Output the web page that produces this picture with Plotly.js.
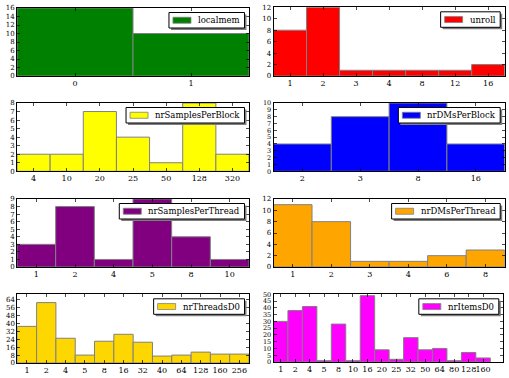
<!DOCTYPE html>
<html><head><meta charset="utf-8">
<script src="https://cdn.plot.ly/plotly-3.0.1.min.js"></script>
<style>html,body{margin:0;padding:0;background:#fff;}#chart{width:509px;height:378px;}</style>
</head><body><div id="chart"></div>
<script>
// ---- data ----
const localmemLabels = ['0','1'];
const localmemCounts = [16,10];
const unrollLabels = ['1','2','3','4','8','12','16'];
const unrollCounts = [8,12,1,1,1,1,2];
const nrSamplesPerBlockLabels = ['4','10','20','25','50','128','320'];
const nrSamplesPerBlockCounts = [2,2,7,4,1,8,2];
const nrDMsPerBlockLabels = ['2','3','8','16'];
const nrDMsPerBlockCounts = [4,8,10,4];
const nrSamplesPerThreadLabels = ['1','2','4','5','8','10'];
const nrSamplesPerThreadCounts = [3,8,1,9,4,1];
const nrDMsPerThreadLabels = ['1','2','3','4','6','8'];
const nrDMsPerThreadCounts = [11,8,1,1,2,3];
const nrThreadsD0Labels = ['1','2','4','5','8','16','32','40','64','128','160','256'];
const nrThreadsD0Counts = [37,61,25,8,22,29,21,7,8,11,9,9];
const nrItemsD0Labels = ['1','2','4','5','8','10','16','20','25','32','50','64','80','128','160'];
const nrItemsD0Counts = [30,38,41,1,28,1,49,9,2,18,9,10,1,7,3];

const seriesNames = ['localmem','unroll','nrSamplesPerBlock','nrDMsPerBlock','nrSamplesPerThread','nrDMsPerThread','nrThreadsD0','nrItemsD0'];
const seriesLabels = [localmemLabels,unrollLabels,nrSamplesPerBlockLabels,nrDMsPerBlockLabels,nrSamplesPerThreadLabels,nrDMsPerThreadLabels,nrThreadsD0Labels,nrItemsD0Labels];
const seriesCounts = [localmemCounts,unrollCounts,nrSamplesPerBlockCounts,nrDMsPerBlockCounts,nrSamplesPerThreadCounts,nrDMsPerThreadCounts,nrThreadsD0Counts,nrItemsD0Counts];
const seriesColors = ['#008000','#ff0000','#ffff00','#0000ff','#800080','#ffa500','#ffd700','#ff00ff'];

// ---- layout geometry (pixels) ----
const W = 509, H = 378;
const boxes = [ // [left,right,top,bottom]
  [17,249,8,76],[273.5,504.7,7.3,76],
  [17,249,103,171.3],[273.5,504.7,103,171.3],
  [17,249,199,267],[273.5,504.7,199,267],
  [17.3,249,294.3,363],[273.5,503.3,294.3,362]
];
const yMax = [16,12,8,10,9,12,69.4,50];
const yDtick = [2,2,1,1,1,2,8,5];
const yFontSize = [7,7,7,6.5,7,7,7,6.5];
const xExtra = [0,0,0,0,0,0,0,0.9];

const FONT = 'DejaVu Serif';
const tickFontX = {family:FONT, size:8, color:'#000'};
const legFont = 8.5;

const cv = document.createElement('canvas').getContext('2d');
cv.font = legFont + "px 'DejaVu Serif'";

const data = [];
const layout = {
  width:W, height:H, margin:{l:0,r:0,t:0,b:0},
  paper_bgcolor:'#fff', plot_bgcolor:'#fff',
  font:{family:FONT, color:'#000'},
  showlegend:false, bargap:0, shapes:[], annotations:[]
};

for (let i=0;i<8;i++){
  const s = i===0 ? '' : String(i+1);
  const [L,R,T,B] = boxes[i];
  const n = seriesLabels[i].length;
  data.push({
    type:'bar', x:seriesLabels[i], y:seriesCounts[i], name:seriesNames[i],
    xaxis:'x'+s, yaxis:'y'+s,
    marker:{color:seriesColors[i], line:{color:'#808080', width:1}},
    hoverinfo:'skip'
  });
  const common = {showline:true, linecolor:'#000', linewidth:1, mirror:'allticks',
    ticks:'inside', ticklen:3, tickwidth:0.7, tickcolor:'#000', showgrid:false, zeroline:false, fixedrange:true};
  layout['xaxis'+s] = Object.assign({}, common, {
    domain:[L/W, R/W], anchor:'y'+s, type:'category', tickangle:0,
    range:[-0.5, n-0.5+xExtra[i]], tickfont:tickFontX, ticklabelstandoff:-1
  });
  layout['yaxis'+s] = Object.assign({}, common, {
    domain:[1-B/H, 1-T/H], anchor:'x'+s, range:[0,yMax[i]],
    tickmode:'linear', tick0:0, dtick:yDtick[i],
    tickfont:{family:FONT, size:yFontSize[i], color:'#000'}, ticklabelstandoff:0
  });

  // legend box (manually styled like matplotlib legend with shadow)
  const tw = cv.measureText(seriesNames[i]).width;
  const bw = 4 + 18 + 7 + tw + 5;
  const bh = 15.5;
  const br = R - 4.5, bt = T + 4.5;
  const bl = br - bw, bb = bt + bh;
  const px = v => v/W, py = v => 1 - v/H;
  layout.shapes.push({type:'rect', xref:'paper', yref:'paper', layer:'above',
    x0:px(bl+2), x1:px(br+2), y0:py(bb+2), y1:py(bt+2), fillcolor:'#7f7f7f', line:{width:0}});
  layout.shapes.push({type:'rect', xref:'paper', yref:'paper', layer:'above',
    x0:px(bl), x1:px(br), y0:py(bb), y1:py(bt), fillcolor:'#fff', line:{color:'#000', width:1}});
  const cy = bt + bh/2;
  layout.shapes.push({type:'rect', xref:'paper', yref:'paper', layer:'above',
    x0:px(bl+4), x1:px(bl+22), y0:py(cy+3), y1:py(cy-3), fillcolor:seriesColors[i], line:{color:'#808080', width:0.8}});
  layout.annotations.push({xref:'paper', yref:'paper', x:px(bl+28), y:py(cy), xanchor:'left', yanchor:'middle',
    text:seriesNames[i], showarrow:false, borderpad:0, font:{family:FONT, size:legFont, color:'#000'}});
}

Plotly.newPlot('chart', data, layout, {staticPlot:true, displayModeBar:false});
</script></body></html>
